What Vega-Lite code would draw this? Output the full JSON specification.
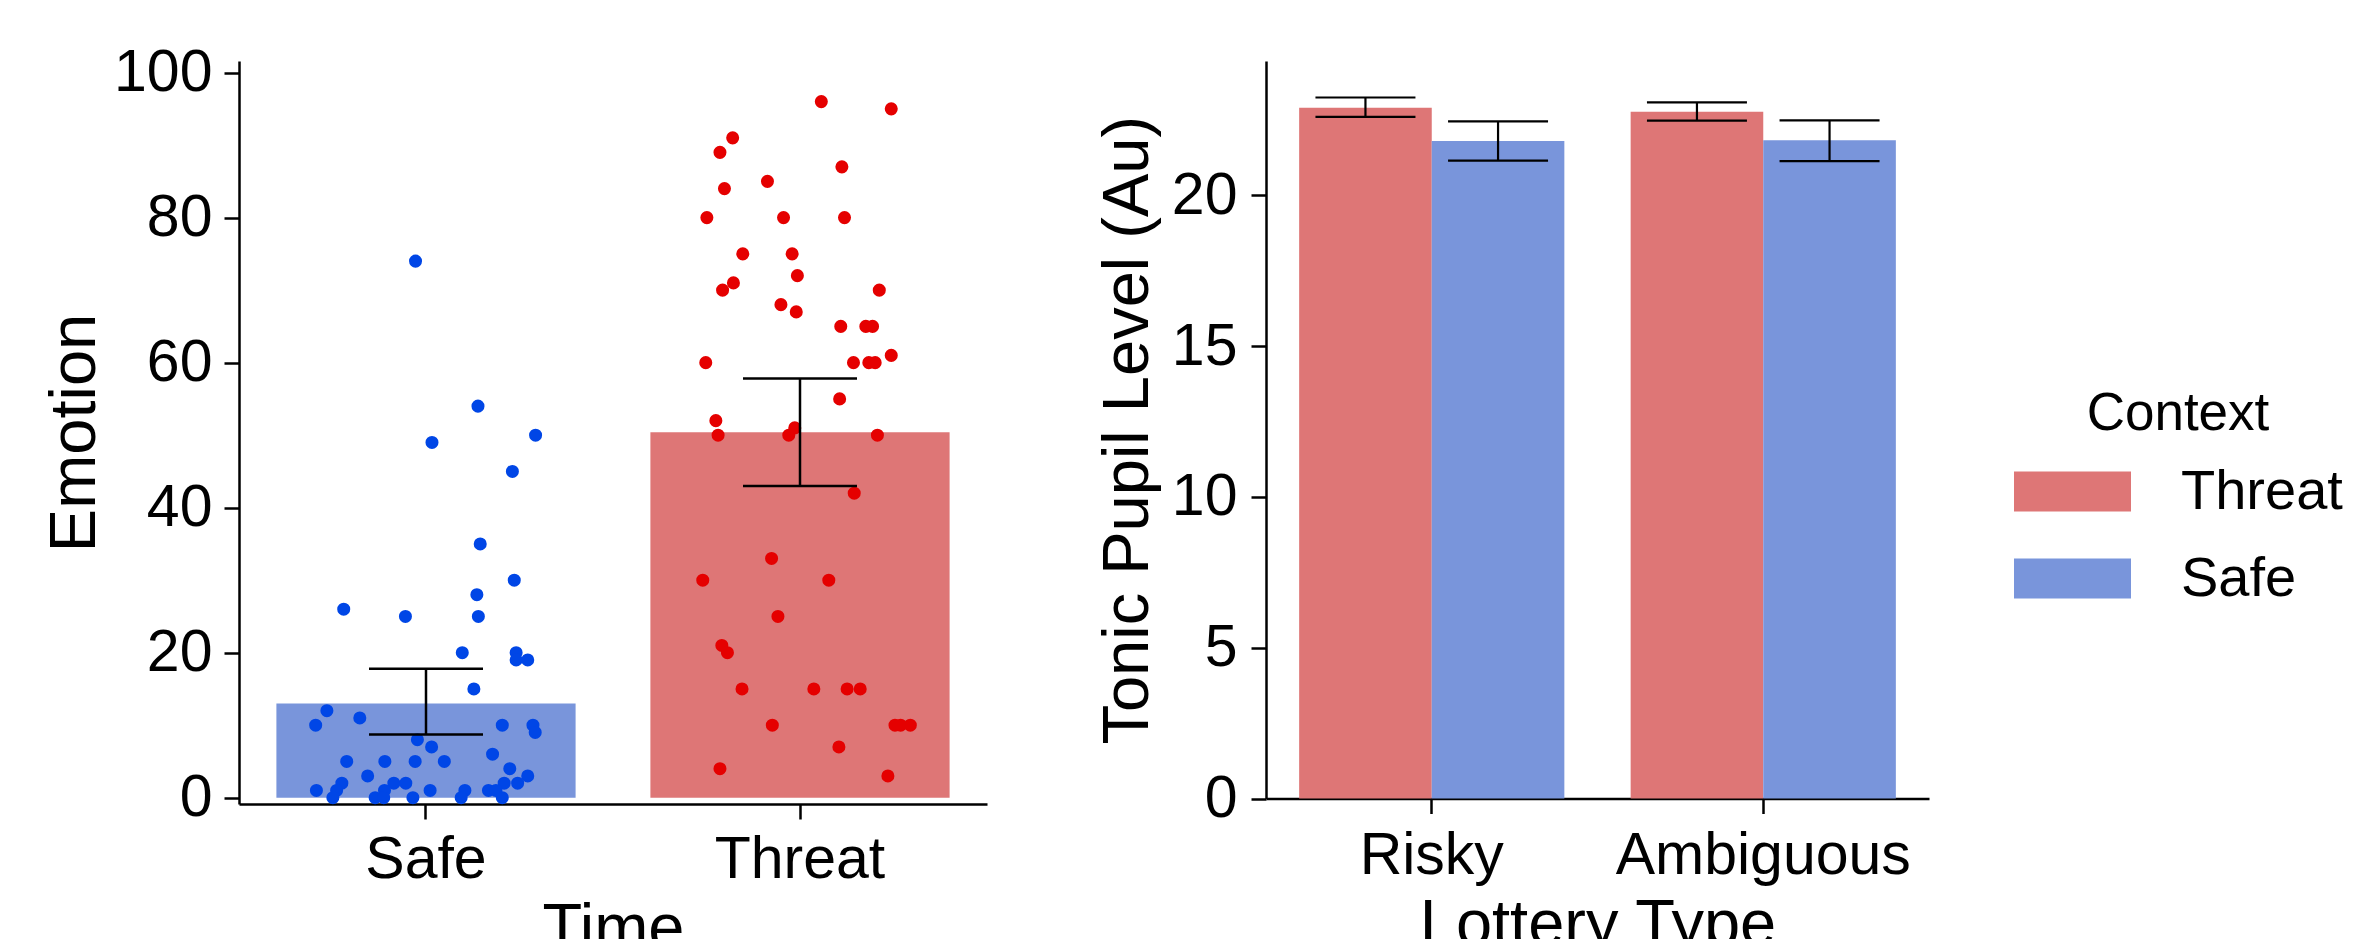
{
  "$schema": "https://vega.github.io/schema/vega-lite/v6.json",
  "background": "white",
  "padding": {"left": 42, "top": 43, "right": 0, "bottom": 0},
  "spacing": 108,
  "config": {
    "view": {"stroke": null},
    "font": "Liberation Sans",
    "axis": {
      "grid": false,
      "domainColor": "black",
      "domainWidth": 2.5,
      "tickColor": "black",
      "tickWidth": 2.5,
      "tickSize": 15,
      "labelFont": "Liberation Sans",
      "labelFontSize": 59,
      "labelColor": "black",
      "labelLimit": 0,
      "titleFont": "Liberation Sans",
      "titleFontSize": 65,
      "titleFontWeight": "normal",
      "titleColor": "black"
    }
  },
  "datasets": {
    "emotionMeans": [
      {"Time": "Safe", "mean": 13.0, "lo": 8.7, "hi": 17.8},
      {"Time": "Threat", "mean": 50.4, "lo": 43.0, "hi": 57.8}
    ],
    "emotionPoints": [
      {"Time": "Safe", "emotion": 74, "jitter": -0.028},
      {"Time": "Safe", "emotion": 54, "jitter": 0.139},
      {"Time": "Safe", "emotion": 49, "jitter": 0.016},
      {"Time": "Safe", "emotion": 50, "jitter": 0.293},
      {"Time": "Safe", "emotion": 45, "jitter": 0.231},
      {"Time": "Safe", "emotion": 35, "jitter": 0.145},
      {"Time": "Safe", "emotion": 30, "jitter": 0.236},
      {"Time": "Safe", "emotion": 28, "jitter": 0.136},
      {"Time": "Safe", "emotion": 26, "jitter": -0.220},
      {"Time": "Safe", "emotion": 25, "jitter": -0.055},
      {"Time": "Safe", "emotion": 25, "jitter": 0.140},
      {"Time": "Safe", "emotion": 20, "jitter": 0.097},
      {"Time": "Safe", "emotion": 20, "jitter": 0.241},
      {"Time": "Safe", "emotion": 19, "jitter": 0.241},
      {"Time": "Safe", "emotion": 19, "jitter": 0.272},
      {"Time": "Safe", "emotion": 15, "jitter": 0.128},
      {"Time": "Safe", "emotion": 12, "jitter": -0.265},
      {"Time": "Safe", "emotion": 10, "jitter": -0.295},
      {"Time": "Safe", "emotion": 11, "jitter": -0.177},
      {"Time": "Safe", "emotion": 10, "jitter": 0.204},
      {"Time": "Safe", "emotion": 10, "jitter": 0.286},
      {"Time": "Safe", "emotion": 9, "jitter": 0.292},
      {"Time": "Safe", "emotion": 8, "jitter": -0.023},
      {"Time": "Safe", "emotion": 7, "jitter": 0.015},
      {"Time": "Safe", "emotion": 6, "jitter": 0.178},
      {"Time": "Safe", "emotion": 5, "jitter": -0.212},
      {"Time": "Safe", "emotion": 5, "jitter": -0.110},
      {"Time": "Safe", "emotion": 5, "jitter": -0.029},
      {"Time": "Safe", "emotion": 5, "jitter": 0.049},
      {"Time": "Safe", "emotion": 4, "jitter": 0.224},
      {"Time": "Safe", "emotion": 3, "jitter": -0.156},
      {"Time": "Safe", "emotion": 3, "jitter": 0.272},
      {"Time": "Safe", "emotion": 2, "jitter": -0.225},
      {"Time": "Safe", "emotion": 2, "jitter": -0.086},
      {"Time": "Safe", "emotion": 2, "jitter": -0.054},
      {"Time": "Safe", "emotion": 2, "jitter": 0.209},
      {"Time": "Safe", "emotion": 2, "jitter": 0.245},
      {"Time": "Safe", "emotion": 1, "jitter": -0.293},
      {"Time": "Safe", "emotion": 1, "jitter": -0.239},
      {"Time": "Safe", "emotion": 1, "jitter": -0.111},
      {"Time": "Safe", "emotion": 1, "jitter": 0.011},
      {"Time": "Safe", "emotion": 1, "jitter": 0.104},
      {"Time": "Safe", "emotion": 1, "jitter": 0.167},
      {"Time": "Safe", "emotion": 1, "jitter": 0.187},
      {"Time": "Safe", "emotion": 0, "jitter": -0.249},
      {"Time": "Safe", "emotion": 0, "jitter": -0.136},
      {"Time": "Safe", "emotion": 0, "jitter": -0.113},
      {"Time": "Safe", "emotion": 0, "jitter": -0.035},
      {"Time": "Safe", "emotion": 0, "jitter": 0.094},
      {"Time": "Safe", "emotion": 0, "jitter": 0.204},
      {"Time": "Threat", "emotion": 96, "jitter": 0.057},
      {"Time": "Threat", "emotion": 95, "jitter": 0.244},
      {"Time": "Threat", "emotion": 91, "jitter": -0.180},
      {"Time": "Threat", "emotion": 89, "jitter": -0.214},
      {"Time": "Threat", "emotion": 87, "jitter": 0.112},
      {"Time": "Threat", "emotion": 85, "jitter": -0.087},
      {"Time": "Threat", "emotion": 84, "jitter": -0.202},
      {"Time": "Threat", "emotion": 80, "jitter": -0.249},
      {"Time": "Threat", "emotion": 80, "jitter": -0.044},
      {"Time": "Threat", "emotion": 80, "jitter": 0.119},
      {"Time": "Threat", "emotion": 75, "jitter": -0.153},
      {"Time": "Threat", "emotion": 75, "jitter": -0.021},
      {"Time": "Threat", "emotion": 72, "jitter": -0.007},
      {"Time": "Threat", "emotion": 71, "jitter": -0.178},
      {"Time": "Threat", "emotion": 70, "jitter": -0.207},
      {"Time": "Threat", "emotion": 70, "jitter": 0.212},
      {"Time": "Threat", "emotion": 68, "jitter": -0.051},
      {"Time": "Threat", "emotion": 67, "jitter": -0.010},
      {"Time": "Threat", "emotion": 65, "jitter": 0.109},
      {"Time": "Threat", "emotion": 65, "jitter": 0.176},
      {"Time": "Threat", "emotion": 65, "jitter": 0.194},
      {"Time": "Threat", "emotion": 60, "jitter": -0.252},
      {"Time": "Threat", "emotion": 60, "jitter": 0.143},
      {"Time": "Threat", "emotion": 60, "jitter": 0.184},
      {"Time": "Threat", "emotion": 60, "jitter": 0.201},
      {"Time": "Threat", "emotion": 61, "jitter": 0.244},
      {"Time": "Threat", "emotion": 55, "jitter": 0.106},
      {"Time": "Threat", "emotion": 52, "jitter": -0.225},
      {"Time": "Threat", "emotion": 50, "jitter": -0.219},
      {"Time": "Threat", "emotion": 50, "jitter": -0.030},
      {"Time": "Threat", "emotion": 51, "jitter": -0.014},
      {"Time": "Threat", "emotion": 50, "jitter": 0.207},
      {"Time": "Threat", "emotion": 42, "jitter": 0.145},
      {"Time": "Threat", "emotion": 33, "jitter": -0.076},
      {"Time": "Threat", "emotion": 30, "jitter": -0.260},
      {"Time": "Threat", "emotion": 30, "jitter": 0.077},
      {"Time": "Threat", "emotion": 25, "jitter": -0.059},
      {"Time": "Threat", "emotion": 21, "jitter": -0.209},
      {"Time": "Threat", "emotion": 20, "jitter": -0.194},
      {"Time": "Threat", "emotion": 15, "jitter": -0.155},
      {"Time": "Threat", "emotion": 15, "jitter": 0.037},
      {"Time": "Threat", "emotion": 15, "jitter": 0.126},
      {"Time": "Threat", "emotion": 15, "jitter": 0.161},
      {"Time": "Threat", "emotion": 10, "jitter": -0.074},
      {"Time": "Threat", "emotion": 10, "jitter": 0.254},
      {"Time": "Threat", "emotion": 10, "jitter": 0.269},
      {"Time": "Threat", "emotion": 10, "jitter": 0.295},
      {"Time": "Threat", "emotion": 7, "jitter": 0.104},
      {"Time": "Threat", "emotion": 4, "jitter": -0.214},
      {"Time": "Threat", "emotion": 3, "jitter": 0.235}
    ],
    "pupil": [
      {"Lottery": "Risky", "Context": "Threat", "mean": 22.9, "lo": 22.6, "hi": 23.24},
      {"Lottery": "Risky", "Context": "Safe", "mean": 21.8, "lo": 21.15, "hi": 22.45},
      {"Lottery": "Ambiguous", "Context": "Threat", "mean": 22.77, "lo": 22.47, "hi": 23.08},
      {"Lottery": "Ambiguous", "Context": "Safe", "mean": 21.82, "lo": 21.13, "hi": 22.48}
    ]
  },
  "hconcat": [
    {
      "width": 748,
      "height": 743,
      "resolve": {"scale": {"x": "independent", "xOffset": "independent"}},
      "layer": [
        {
          "data": {"name": "emotionMeans"},
          "mark": {"type": "bar"},
          "encoding": {
            "x": {"field": "Time", "type": "nominal", "sort": ["Safe", "Threat"], "title": "Time",
                  "scale": {"type": "band", "paddingInner": 0.2, "paddingOuter": 0.1},
                  "axis": {"labelAngle": 0, "labelPadding": 11, "titlePadding": 8}},
            "y": {"field": "mean", "type": "quantitative", "title": "Emotion",
                  "scale": {"domain": [-0.87, 101.6], "nice": false},
                  "axis": {"values": [0, 20, 40, 60, 80, 100], "labelPadding": 12, "titlePadding": 5}},
            "color": {"field": "Time", "type": "nominal", "legend": null,
                      "scale": {"domain": ["Threat", "Safe"], "range": ["#DE7676", "#7995DB"]}}
          }
        },
        {
          "data": {"name": "emotionPoints"},
          "mark": {"type": "point", "filled": true, "opacity": 1, "size": 170, "strokeWidth": 0},
          "encoding": {
            "x": {"field": "Time", "type": "nominal", "sort": ["Safe", "Threat"], "axis": null,
                  "scale": {"type": "band", "paddingInner": 0, "paddingOuter": 0}},
            "xOffset": {"field": "jitter", "type": "quantitative", "scale": {"domain": [-0.5, 0.5], "range": [0, 374]}},
            "y": {"field": "emotion", "type": "quantitative", "title": "Emotion"},
            "fill": {"field": "Time", "type": "nominal", "legend": null,
                     "scale": {"domain": ["Threat", "Safe"], "range": ["#E50000", "#0046E6"]}}
          }
        },
        {
          "data": {"name": "emotionMeans"},
          "layer": [
            {
              "mark": {"type": "rule", "color": "black", "strokeWidth": 2.5},
              "encoding": {
                "x": {"field": "Time", "type": "nominal", "sort": ["Safe", "Threat"], "axis": null,
                      "scale": {"type": "band", "paddingInner": 0, "paddingOuter": 0}},
                "y": {"field": "lo", "type": "quantitative", "title": "Emotion"},
                "y2": {"field": "hi"}
              }
            },
            {
              "mark": {"type": "tick", "color": "black", "thickness": 2.5, "size": 114, "orient": "horizontal", "opacity": 1},
              "encoding": {
                "x": {"field": "Time", "type": "nominal", "sort": ["Safe", "Threat"], "axis": null},
                "y": {"field": "lo", "type": "quantitative", "title": "Emotion"}
              }
            },
            {
              "mark": {"type": "tick", "color": "black", "thickness": 2.5, "size": 114, "orient": "horizontal", "opacity": 1},
              "encoding": {
                "x": {"field": "Time", "type": "nominal", "sort": ["Safe", "Threat"], "axis": null},
                "y": {"field": "hi", "type": "quantitative", "title": "Emotion"}
              }
            }
          ]
        }
      ]
    },
    {
      "width": 663,
      "height": 737.5,
      "data": {"name": "pupil"},
      "layer": [
        {
          "mark": {"type": "bar"},
          "encoding": {
            "x": {"field": "Lottery", "type": "nominal", "sort": ["Risky", "Ambiguous"], "title": "Lottery Type",
                  "scale": {"type": "band", "paddingInner": 0.2, "paddingOuter": 0.1},
                  "axis": {"labelAngle": 0, "labelPadding": 13, "titlePadding": 8}},
            "xOffset": {"field": "Context", "type": "nominal", "scale": {"domain": ["Threat", "Safe"], "paddingInner": 0, "paddingOuter": 0}},
            "y": {"field": "mean", "type": "quantitative", "title": "Tonic Pupil Level (Au)",
                  "scale": {"domain": [0, 24.45], "nice": false},
                  "axis": {"values": [0, 5, 10, 15, 20], "labelPadding": 14, "titlePadding": 10}},
            "y2": {"datum": 0},
            "color": {"field": "Context", "type": "nominal",
                      "scale": {"domain": ["Threat", "Safe"], "range": ["#DE7676", "#7995DB"]},
                      "legend": {
                        "title": "Context",
                        "orient": "none",
                        "legendX": 748,
                        "legendY": 327,
                        "symbolType": "M-1,-0.342H1V0.342H-1Z",
                        "symbolSize": 13689,
                        "symbolStrokeWidth": 0,
                        "symbolOpacity": 1,
                        "labelFont": "Liberation Sans",
                        "labelFontSize": 56,
                        "labelColor": "black",
                        "labelLimit": 0,
                        "labelOffset": 50,
                        "titleFont": "Liberation Sans",
                        "titleFontSize": 53,
                        "titleFontWeight": "normal",
                        "titleColor": "black",
                        "titleLimit": 0,
                        "titleAnchor": "middle",
                        "titlePadding": -8,
                        "rowPadding": -5
                      }}
          }
        },
        {
          "mark": {"type": "rule", "color": "black", "strokeWidth": 2.2},
          "encoding": {
            "x": {"field": "Lottery", "type": "nominal", "sort": ["Risky", "Ambiguous"], "title": "Lottery Type"},
            "xOffset": {"field": "Context", "type": "nominal"},
            "y": {"field": "lo", "type": "quantitative", "title": "Tonic Pupil Level (Au)"},
            "y2": {"field": "hi"}
          }
        },
        {
          "mark": {"type": "tick", "color": "black", "thickness": 2.2, "size": 100, "orient": "horizontal", "opacity": 1},
          "encoding": {
            "x": {"field": "Lottery", "type": "nominal", "sort": ["Risky", "Ambiguous"], "title": "Lottery Type"},
            "xOffset": {"field": "Context", "type": "nominal"},
            "y": {"field": "lo", "type": "quantitative", "title": "Tonic Pupil Level (Au)"}
          }
        },
        {
          "mark": {"type": "tick", "color": "black", "thickness": 2.2, "size": 100, "orient": "horizontal", "opacity": 1},
          "encoding": {
            "x": {"field": "Lottery", "type": "nominal", "sort": ["Risky", "Ambiguous"], "title": "Lottery Type"},
            "xOffset": {"field": "Context", "type": "nominal"},
            "y": {"field": "hi", "type": "quantitative", "title": "Tonic Pupil Level (Au)"}
          }
        }
      ]
    }
  ],
  "resolve": {"scale": {"color": "independent"}}
}
